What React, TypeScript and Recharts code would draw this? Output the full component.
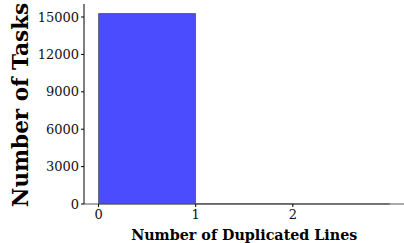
import { BarChart, Bar, XAxis, YAxis } from "recharts";

// histogram bins (left edge .. right edge) and counts
const binStarts = [0, 1, 2];
const counts = [15280, 12, 6];
const xTicks = [0, 1, 2];
const yTicks = [0, 3000, 6000, 9000, 12000, 15000];

const data = binStarts.map((b, i) => ({ mid: b + 0.5, count: counts[i] }));

const Y_MAX = 16044;
const font = "'DejaVu Serif', serif";

const YTitle = () => (
  <text
    x={20}
    y={105}
    transform="rotate(-90 20 105)"
    textAnchor="middle"
    dominantBaseline="central"
    fill="#000"
    fontSize={21.6}
    fontWeight="bold"
    fontFamily={font}
  >
    Number of Tasks
  </text>
);

export default function App() {
  return (
    <div
      style={{
        position: "absolute",
        left: 0,
        top: 0,
        width: 404,
        height: 243,
        overflow: "hidden",
        background: "#fff",
      }}
    >
      <BarChart
        width={424}
        height={243}
        data={data}
        margin={{ top: 4, right: 19.5, bottom: 0, left: 0 }}
        barCategoryGap={0}
        style={{ outline: "none" }}
      >
        <XAxis
          dataKey="mid"
          type="number"
          domain={[-0.15, 3.15]}
          ticks={xTicks}
          allowDataOverflow
          height={39}
          stroke="#555"
          tickLine={{ stroke: "#000" }}
          tickSize={3}
          tick={{ fill: "#111", fontSize: 13, fontFamily: font, dy: 1 }}
          label={{
            value: "Number of Duplicated Lines",
            position: "insideBottom",
            offset: 0,
            dy: -3,
            fill: "#000",
            fontSize: 14.3,
            fontWeight: "bold",
            fontFamily: font,
          }}
        />
        <XAxis
          xAxisId="top"
          orientation="top"
          dataKey="mid"
          type="number"
          domain={[-0.15, 3.15]}
          height={0}
          tick={false}
          tickLine={false}
          axisLine={{ stroke: "#444", strokeWidth: 1.2 }}
        />
        <YAxis
          type="number"
          domain={[0, Y_MAX]}
          ticks={yTicks}
          width={84}
          stroke="#000"
          tickSize={3}
          tick={{ fill: "#111", fontSize: 13, fontFamily: font }}
          label={<YTitle />}
        />
        <Bar
          dataKey="count"
          fill="#4c4cff"
          stroke="#333"
          strokeOpacity={0.6}
          strokeWidth={1}
          isAnimationActive={false}
        />
      </BarChart>
    </div>
  );
}
